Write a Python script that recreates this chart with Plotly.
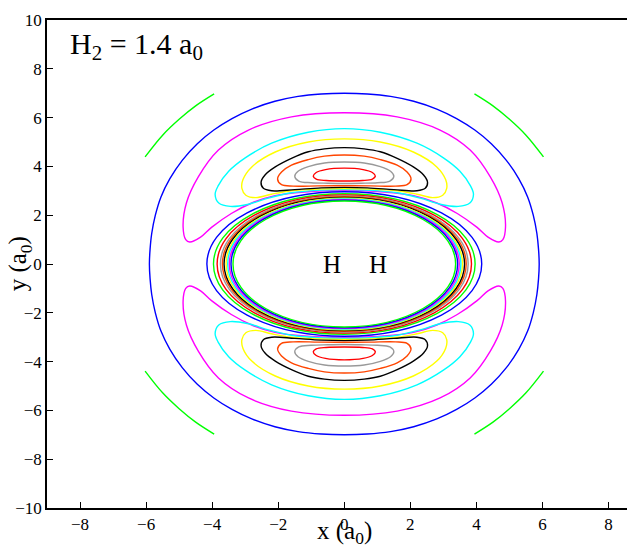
import plotly.graph_objects as go

# ---------------- data (units of a0) ----------------
# Upper lobes: right half, listed from the top centre clockwise to the bottom centre.
# (Chart is symmetric about x=0 and y=0; the other halves are mirror images.)
lobe_red = [(0, 3.93), (0.57, 3.87), (0.85, 3.75), (0.94, 3.60), (0.85, 3.48), (0.55, 3.42), (0, 3.40)]
lobe_gray = [(0, 4.18), (0.6, 4.14), (1.09, 3.99), (1.40, 3.80), (1.50, 3.60), (1.38, 3.40),
             (1.0, 3.33), (0.5, 3.31), (0, 3.30)]
lobe_orangered = [(0, 4.47), (0.6, 4.42), (1.09, 4.28), (1.6, 4.05), (1.9, 3.77), (2.02, 3.48),
                  (1.90, 3.25), (1.55, 3.19), (0.8, 3.20), (0, 3.21)]
lobe_black = [(0, 4.77), (0.6, 4.72), (1.09, 4.60), (1.6, 4.33), (2.09, 3.98), (2.40, 3.65),
              (2.52, 3.35), (2.45, 3.10), (2.2, 3.0), (1.5, 3.05), (0.7, 3.12), (0, 3.14)]
lobe_yellow = [(0, 5.13), (1.09, 5.0), (2.09, 4.59), (2.8, 3.98), (3.07, 3.45), (3.10, 3.10),
               (2.98, 2.82), (2.68, 2.72), (2.2, 2.86), (1.6, 3.0), (0.8, 3.07), (0, 3.09)]
lobe_cyan = [(0, 5.55), (1.09, 5.40), (2.2, 4.95), (3.0, 4.35), (3.5, 3.80), (3.82, 3.20),
             (3.91, 2.85), (3.80, 2.50), (3.45, 2.36), (2.9, 2.45), (2.3, 2.70), (1.6, 2.92),
             (0.8, 3.02), (0, 3.05)]
lobe_magenta = [(0, 6.20), (1.6, 6.03), (2.9, 5.49), (3.81, 4.67), (4.42, 3.57), (4.78, 2.50),
                (4.88, 1.52), (4.80, 1.00), (4.68, 0.90), (4.35, 1.10), (4.02, 1.50),
                (3.42, 2.07), (2.8, 2.50), (2.1, 2.80), (1.2, 2.95), (0, 3.01)]

# Outer closed contour: first quadrant, from the top to the x axis.
outer_blue = [(0, 7.0), (0.7, 6.97), (1.4, 6.87), (2.1, 6.67), (2.8, 6.35), (3.4, 5.96),
              (3.95, 5.49), (4.45, 4.93), (4.9, 4.26), (5.28, 3.50), (5.55, 2.75),
              (5.72, 2.0), (5.83, 1.25), (5.88, 0.6), (5.9, 0)]

# Open green arcs: upper-right arc.
arc_green = [(3.94, 6.97), (4.5, 6.48), (5.0, 5.93), (5.5, 5.28), (6.03, 4.39)]

# Inner closed contours around the nuclei (outermost first): semi-axes in x and y.
inner_colors = ["#0000ff", "#00ff00", "#ff0000", "#999999", "#ff4500", "#000000",
                "#ffff00", "#00ffff", "#ff00ff", "#0000ff", "#00ff00"]
inner_a = [4.16, 3.96, 3.85, 3.75, 3.69, 3.64, 3.58, 3.53, 3.48, 3.43, 3.37]
inner_b = [2.96, 2.88, 2.83, 2.79, 2.76, 2.73, 2.70, 2.67, 2.64, 2.61, 2.58]

x_ticks = [-8, -6, -4, -2, 0, 2, 4, 6, 8]
y_ticks = [-10, -8, -6, -4, -2, 0, 2, 4, 6, 8, 10]

title_text = "H<sub>2</sub> = 1.4 a<sub>0</sub>"
x_title = "x (a<sub>0</sub>)"
y_title = "y (a<sub>0</sub>)"
atom_labels = ["H", "H"]
atom_x = [-0.7, 0.7]

FONT = "Liberation Serif, Times New Roman, serif"
LW = 1.4


def lobe_path(right_half):
    """Closed upper lobe and its mirrored lower lobe, joined with a gap."""
    left = [(-x, y) for (x, y) in reversed(right_half)]
    upper = right_half + left[1:]
    xs = [p[0] for p in upper]
    ys = [p[1] for p in upper]
    return xs + [None] + xs, ys + [None] + [-y for y in ys]


def closed_quadrant_path(quad):
    q1 = quad
    q4 = [(x, -y) for (x, y) in reversed(quad)][1:]
    q3 = [(-x, -y) for (x, y) in quad][1:]
    q2 = [(-x, y) for (x, y) in reversed(quad)][1:]
    pts = q1 + q4 + q3 + q2
    return [p[0] for p in pts], [p[1] for p in pts]


def arcs_path(arc):
    xs, ys = [], []
    for sx, sy in [(1, 1), (-1, 1), (1, -1), (-1, -1)]:
        xs += [sx * x for (x, y) in arc] + [None]
        ys += [sy * y for (x, y) in arc] + [None]
    return xs, ys


fig = go.Figure()

xs, ys = arcs_path(arc_green)
fig.add_trace(go.Scatter(x=xs, y=ys, mode="lines", line=dict(color="#00ff00", width=LW, shape="spline"),
                         hoverinfo="skip", showlegend=False))
xs, ys = closed_quadrant_path(outer_blue)
fig.add_trace(go.Scatter(x=xs, y=ys, mode="lines", line=dict(color="#0000ff", width=LW, shape="spline"),
                         hoverinfo="skip", showlegend=False))

for pts, col in [(lobe_magenta, "#ff00ff"), (lobe_cyan, "#00ffff"), (lobe_yellow, "#ffff00"),
                 (lobe_black, "#000000"), (lobe_orangered, "#ff4500"), (lobe_gray, "#999999"),
                 (lobe_red, "#ff0000")]:
    xs, ys = lobe_path(pts)
    fig.add_trace(go.Scatter(x=xs, y=ys, mode="lines", line=dict(color=col, width=LW, shape="spline"),
                             hoverinfo="skip", showlegend=False))

shapes = []
for a, b, col in zip(inner_a, inner_b, inner_colors):
    shapes.append(dict(type="circle", xref="x", yref="y", x0=-a, x1=a, y0=-b, y1=b,
                       line=dict(color=col, width=LW), layer="above"))

annotations = [
    dict(text=title_text, xref="x", yref="y", x=-8.35, y=8.95, xanchor="left", yanchor="middle",
         showarrow=False, font=dict(family=FONT, size=30, color="black")),
    dict(text=x_title, xref="x", yref="paper", x=0, y=-0.05, xanchor="center", yanchor="middle",
         showarrow=False, font=dict(family=FONT, size=25, color="black")),
    dict(text=y_title, xref="paper", yref="paper", x=-0.047, y=0.5, xanchor="center", yanchor="middle",
         textangle=-90, showarrow=False, font=dict(family=FONT, size=25, color="black")),
]
for lab, ax in zip(atom_labels, atom_x):
    annotations.append(dict(text=lab, xref="x", yref="y", x=ax, y=0, xanchor="left", yanchor="middle",
                            showarrow=False, font=dict(family=FONT, size=25, color="black")))

# The page body has an 8 px margin, so the figure is made 8 px smaller and margins trimmed.
fig.update_layout(
    width=627, height=538,
    margin=dict(l=39, r=0, t=12, b=38, autoexpand=False),
    paper_bgcolor="white", plot_bgcolor="white",
    shapes=shapes, annotations=annotations,
    showlegend=False,
    xaxis=dict(range=[-9, 8.8], tickvals=x_ticks, ticks="inside", ticklen=6, tickcolor="black",
               showline=True, linecolor="black", linewidth=1.5, mirror=True,
               showgrid=False, zeroline=False, automargin=False,
               tickfont=dict(family=FONT, size=17, color="black")),
    yaxis=dict(range=[-10, 10], tickvals=y_ticks, ticks="inside", ticklen=6, tickcolor="black",
               showline=True, linecolor="black", linewidth=1.5, mirror=False,
               showgrid=False, zeroline=False, automargin=False,
               tickfont=dict(family=FONT, size=17, color="black")),
)

fig.write_html("out.html")
